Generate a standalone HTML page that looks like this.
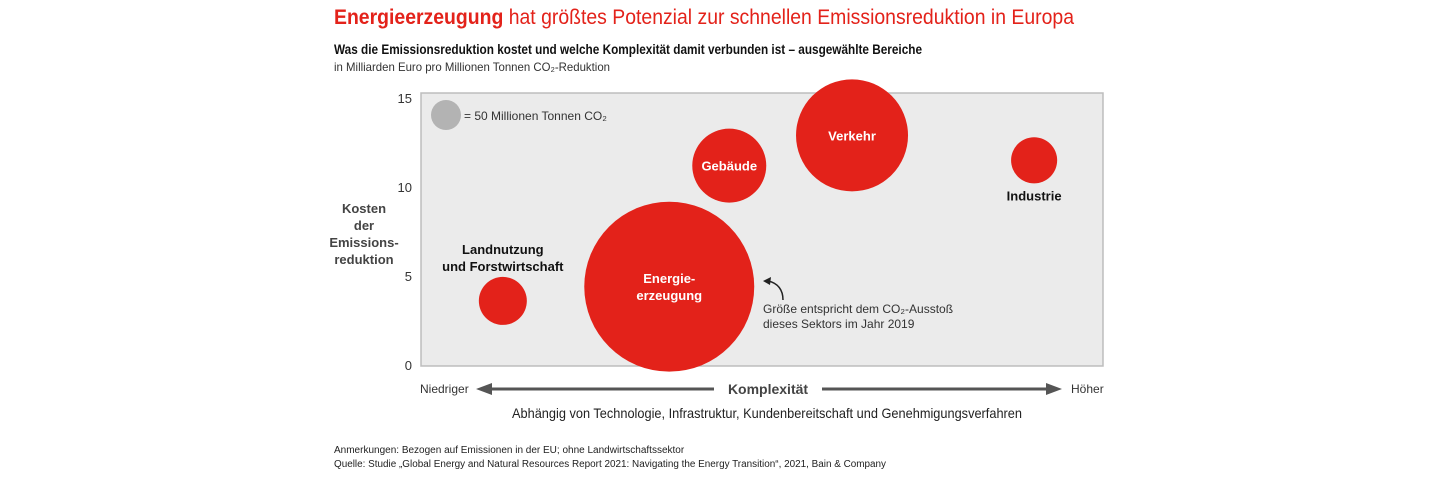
<!DOCTYPE html>
<html><head><meta charset="utf-8"><style>
body{margin:0;background:#fff;width:1440px;height:480px;overflow:hidden;font-family:"Liberation Sans",sans-serif;}
svg text{font-family:"Liberation Sans",sans-serif;}
</style></head><body>
<svg width="1440" height="480" xmlns="http://www.w3.org/2000/svg">
<text x="334" y="24" font-size="21" fill="#e3221a" textLength="740" lengthAdjust="spacingAndGlyphs"><tspan font-weight="bold">Energieerzeugung</tspan> hat größtes Potenzial zur schnellen Emissionsreduktion in Europa</text>
<text x="334" y="54" font-size="13.5" font-weight="bold" fill="#111" textLength="588" lengthAdjust="spacingAndGlyphs">Was die Emissionsreduktion kostet und welche Komplexität damit verbunden ist – ausgewählte Bereiche</text>
<text x="334" y="71" font-size="12" fill="#333" textLength="276" lengthAdjust="spacingAndGlyphs">in Milliarden Euro pro Millionen Tonnen CO₂-Reduktion</text>
<rect x="421" y="93" width="682" height="273" fill="#ebebeb" stroke="#bdbdbd" stroke-width="1.5"/>
<g id="yticks"></g>
<g font-size="13" font-weight="bold" fill="#444" text-anchor="middle">
<text x="364" y="213">Kosten</text><text x="364" y="230">der</text><text x="364" y="247">Emissions-</text><text x="364" y="264">reduktion</text></g>
<circle cx="446" cy="115" r="15" fill="#b3b3b3"/>
<text x="464" y="120" font-size="12" fill="#333">= 50 Millionen Tonnen CO₂</text>
<g id="bubbles"></g>
<path d="M783 300 C783 290 778 283 768 281" fill="none" stroke="#222" stroke-width="1.5"/>
<path d="M763 281 L771 277 L770 285 Z" fill="#222"/>
<g font-size="12" fill="#333"><text x="763" y="313">Größe entspricht dem CO₂-Ausstoß</text><text x="763" y="328">dieses Sektors im Jahr 2019</text></g>
<text x="420" y="393" font-size="12" fill="#333">Niedriger</text>
<text x="1071" y="393" font-size="12" fill="#333">Höher</text>
<g>
<line x1="488" y1="389" x2="714" y2="389" stroke="#555" stroke-width="3"/><path d="M476 389 L492 383 L492 395 Z" fill="#555"/>
<line x1="822" y1="389" x2="1050" y2="389" stroke="#555" stroke-width="3"/><path d="M1062 389 L1046 383 L1046 395 Z" fill="#555"/></g>
<text x="768" y="394" font-size="14" font-weight="bold" fill="#444" text-anchor="middle">Komplexität</text>
<text x="767" y="418" font-size="14" fill="#222" text-anchor="middle" textLength="510" lengthAdjust="spacingAndGlyphs">Abhängig von Technologie, Infrastruktur, Kundenbereitschaft und Genehmigungsverfahren</text>
<text x="334" y="453" font-size="10" fill="#222">Anmerkungen: Bezogen auf Emissionen in der EU; ohne Landwirtschaftssektor</text>
<text x="334" y="467" font-size="10" fill="#222" textLength="552" lengthAdjust="spacingAndGlyphs">Quelle: Studie „Global Energy and Natural Resources Report 2021: Navigating the Energy Transition“, 2021, Bain &amp; Company</text>
</svg>
<script>
const sectors=["Landnutzung|und Forstwirtschaft","Energie-|erzeugung","Gebäude","Verkehr","Industrie"];
const complexity=[12.0,36.4,45.2,63.2,89.9];
const cost=[3.6,4.4,11.2,12.9,11.5];
const emissions=[128,1605,304,697,118];
const yTicks=[0,5,10,15];
const NS="http://www.w3.org/2000/svg";
const X0=421,X1=1103,Y0=365,Y15=98;
const xs=v=>X0+(X1-X0)*v/100;
const ys=v=>Y0-(Y0-Y15)*v/15;
const rs=e=>15*Math.sqrt(e/50);
const yt=document.getElementById('yticks');
yTicks.forEach(t=>{const el=document.createElementNS(NS,'text');


el.setAttribute('x',412);el.setAttribute('y',ys(t)+5);el.setAttribute('text-anchor','end');el.setAttribute('font-size','13');el.setAttribute('fill','#333');el.textContent=t;yt.appendChild(el);});
const bg=document.getElementById('bubbles');
sectors.forEach((s,i)=>{const cx=xs(complexity[i]),cy=ys(cost[i]),r=rs(emissions[i]);
const c=document.createElementNS(NS,'circle');


c.setAttribute('cx',cx);c.setAttribute('cy',cy);c.setAttribute('r',r);c.setAttribute('fill','#e3221a');bg.appendChild(c);
const lines=s.split('|');const inside=r>30;
lines.forEach((ln,j)=>{const t=document.createElementNS(NS,'text');


let ty;
if(inside){ty=cy+5+(j-(lines.length-1)/2)*17;}
else if(lines.length>1){ty=cy-r-23+j*17;}else{ty=cy+r+17;}
t.setAttribute('x',cx);t.setAttribute('y',ty);t.setAttribute('text-anchor','middle');t.setAttribute('font-size','13');t.setAttribute('font-weight','bold');t.setAttribute('fill',inside?'#fff':'#111');t.textContent=ln;bg.appendChild(t);});});
</script>
</body></html>
